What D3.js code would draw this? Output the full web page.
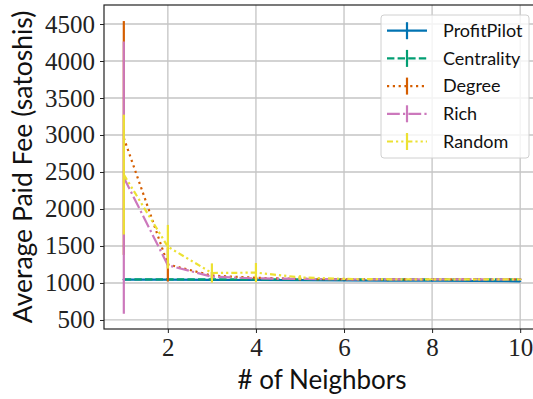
<!DOCTYPE html>
<html><head><meta charset="utf-8">
<script src="https://cdn.jsdelivr.net/npm/d3@7"></script>
<style>body{margin:0;background:#fff}svg{display:block}</style>
</head><body>
<script>
const neighbors = [1,2,3,4,5,6,7,8,9,10];
const seriesNames = ["ProfitPilot","Centrality","Degree","Rich","Random"];
const profitPilot = [1045,1045,1043,1040,1038,1035,1032,1030,1027,1022];
const centrality  = [1048,1050,1050,1050,1050,1050,1050,1050,1050,1050];
const degree      = [2960,1250,1100,1070,1055,1050,1050,1048,1050,1048];
const rich        = [2425,1240,1085,1062,1055,1050,1050,1050,1050,1050];
const random      = [2465,1490,1135,1140,1075,1055,1050,1050,1048,1048];
const profitPilotErr = [8,8,8,8,8,8,8,8,8,8];
const centralityErr  = [8,8,8,8,8,8,8,8,8,8];
const degreeErr      = [1580,230,50,30,20,12,10,10,10,10];
const richErr        = [1840,40,20,15,12,10,10,10,10,10];
const randomErr      = [810,295,130,130,30,15,10,10,10,10];
const yTicks = [500,1000,1500,2000,2500,3000,3500,4000,4500];
const xTicks = [2,4,6,8,10];
const colors = ["#0173b2","#029e73","#d55e00","#cc78bc","#ece133"];
const dashes = [null,"7.4,3.2","2.2,3.6","12.8,3.2,2.2,3.2","6,3,2.2,3,2.2,3"];

const W=533,H=399;
const L=104,R=540,T=5,B=329;
const svg=d3.select("body").append("svg").attr("width",W).attr("height",H);
const x=d3.scaleLinear().domain([0.55,10.45]).range([L,R]);
const y=d3.scaleLinear().domain([378,4757]).range([B,T]);

// grid
const g=svg.append("g");
g.selectAll(".gx").data(xTicks).join("line").attr("x1",d=>x(d)).attr("x2",d=>x(d)).attr("y1",T).attr("y2",B).attr("stroke","#c4c4c4").attr("stroke-width",1.3);
g.selectAll(".gy").data(yTicks).join("line").attr("y1",d=>y(d)).attr("y2",d=>y(d)).attr("x1",L).attr("x2",R).attr("stroke","#c4c4c4").attr("stroke-width",1.3);

const data=[profitPilot,centrality,degree,rich,random];
const errs=[profitPilotErr,centralityErr,degreeErr,richErr,randomErr];
const line=d3.line().x((d,i)=>x(neighbors[i])).y(d=>y(d));
data.forEach((vals,k)=>{
  const sg=svg.append("g");
  sg.selectAll("line").data(vals).join("line")
    .attr("x1",(d,i)=>x(neighbors[i])).attr("x2",(d,i)=>x(neighbors[i]))
    .attr("y1",(d,i)=>y(d-errs[k][i])).attr("y2",(d,i)=>y(d+errs[k][i]))
    .attr("stroke",colors[k]).attr("stroke-width",2.2);
  sg.append("path").attr("d",line(vals)).attr("fill","none").attr("stroke",colors[k])
    .attr("stroke-width",2.2).attr("stroke-dasharray",dashes[k]);
});

// frame
svg.append("rect").attr("x",L).attr("y",T).attr("width",R-L).attr("height",B-T).attr("fill","none").attr("stroke","#222").attr("stroke-width",1.2);

// axes
const ax=svg.append("g").attr("transform",`translate(0,${B})`).call(d3.axisBottom(x).tickValues(xTicks).tickSize(4).tickPadding(5).tickFormat(d3.format("d")));
const ay=svg.append("g").attr("transform",`translate(${L},0)`).call(d3.axisLeft(y).tickValues(yTicks).tickSize(4).tickPadding(5).tickFormat(d3.format("d")));
[ax,ay].forEach(a=>{a.select(".domain").remove();a.selectAll("line").attr("stroke","#222");
  a.selectAll("text").attr("font-family","'Liberation Serif',serif").attr("font-size",25).attr("fill","#222");});
ax.selectAll("text").attr("dy","0.71em");

svg.append("text").attr("x",(L+R)/2).attr("y",389).attr("text-anchor","middle")
  .attr("font-family","Lato,sans-serif").attr("font-size",26).attr("fill","#111").text("# of Neighbors");
svg.append("text").attr("transform","translate(32,167) rotate(-90)").attr("text-anchor","middle")
  .attr("font-family","Lato,sans-serif").attr("font-size",26.5).attr("fill","#111").text("Average Paid Fee (satoshis)");

// legend
const lg=svg.append("g");
lg.append("rect").attr("x",381).attr("y",15).attr("width",148).attr("height",143).attr("rx",3)
  .attr("fill","#fff").attr("fill-opacity",0.8).attr("stroke","#d0d0d0");
seriesNames.forEach((n,k)=>{
  const cy=30.7+k*27.7;
  lg.append("line").attr("x1",387).attr("x2",427).attr("y1",cy).attr("y2",cy).attr("stroke",colors[k]).attr("stroke-width",2.2).attr("stroke-dasharray",dashes[k]);
  lg.append("line").attr("x1",407).attr("x2",407).attr("y1",cy-8.5).attr("y2",cy+8.5).attr("stroke",colors[k]).attr("stroke-width",2.2);
  lg.append("text").attr("x",443).attr("y",cy).attr("dy","0.35em").attr("font-family","Lato,sans-serif").attr("font-size",18).attr("fill","#111").text(n);
});
</script>
</body></html>
